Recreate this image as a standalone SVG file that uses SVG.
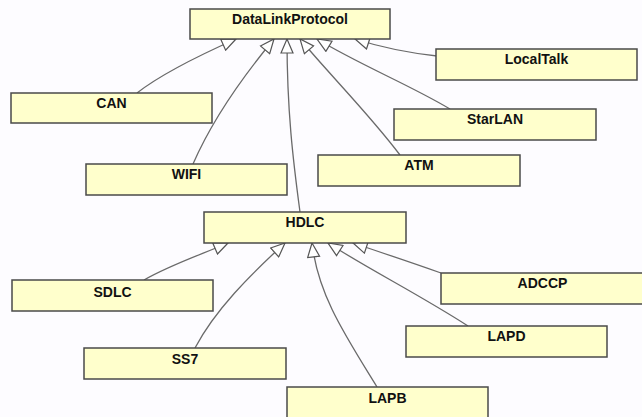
<svg xmlns="http://www.w3.org/2000/svg" width="642" height="417" viewBox="0 0 642 417">
<style>
.n rect{fill:#FFFFCC;stroke:#4a4a4a;stroke-width:1.5}
.n text{font-family:"Liberation Sans",Arial,sans-serif;font-weight:bold;font-size:14px;fill:#111;text-anchor:middle}
.e path{fill:none;stroke:#6a6a6a;stroke-width:1.3;marker-end:url(#tri)}
</style>
<defs>
<marker id="tri" markerUnits="userSpaceOnUse" viewBox="0 0 16 14" refX="15" refY="7" markerWidth="16" markerHeight="14" orient="auto">
<path d="M1,1 L15,7 L1,13 Z" fill="#ffffff" stroke="#555" stroke-width="1.2"/>
</marker>
</defs>
<rect width="642" height="417" fill="#FDFCFF"/>
<g id="connectors" class="e">
<path d="M137,93 C160,75 200,55 236,39"/>
<path d="M193,164 C210,125 240,80 274,39"/>
<path d="M300,212 C293,160 287,110 287,39"/>
<path d="M400,155 C370,115 330,75 300,39"/>
<path d="M450,109 C410,85 360,65 317,39"/>
<path d="M437,56 C410,53 380,47 355,39"/>
<path d="M144,280 C170,265 200,255 228,243"/>
<path d="M195,348 C215,310 250,275 285,243"/>
<path d="M377,387 C345,335 318,295 312,243"/>
<path d="M468,326 C420,295 370,270 328,243"/>
<path d="M441,273 C410,262 380,252 353,243"/>
</g>
<g id="DataLinkProtocol" class="n"><rect x="190" y="9" width="200" height="30"/><text x="290" y="23.5">DataLinkProtocol</text></g>
<g id="CAN" class="n"><rect x="11" y="93" width="201" height="30"/><text x="111.5" y="108">CAN</text></g>
<g id="WIFI" class="n"><rect x="86" y="164" width="201" height="31"/><text x="186.5" y="179">WIFI</text></g>
<g id="LocalTalk" class="n"><rect x="436" y="49" width="201" height="31"/><text x="536.5" y="64">LocalTalk</text></g>
<g id="StarLAN" class="n"><rect x="394" y="109" width="202" height="31"/><text x="495" y="124">StarLAN</text></g>
<g id="ATM" class="n"><rect x="318" y="155" width="202" height="31"/><text x="419" y="170">ATM</text></g>
<g id="HDLC" class="n"><rect x="204" y="212" width="202" height="31"/><text x="305" y="227">HDLC</text></g>
<g id="SDLC" class="n"><rect x="12" y="280" width="201" height="31"/><text x="112.5" y="297">SDLC</text></g>
<g id="SS7" class="n"><rect x="84" y="348" width="202" height="31"/><text x="185" y="364">SS7</text></g>
<g id="LAPB" class="n"><rect x="287" y="387" width="201" height="32"/><text x="387.5" y="403">LAPB</text></g>
<g id="ADCCP" class="n"><rect x="441" y="273" width="203" height="31"/><text x="542.5" y="288">ADCCP</text></g>
<g id="LAPD" class="n"><rect x="406" y="326" width="201" height="31"/><text x="506.5" y="341">LAPD</text></g>
</svg>
